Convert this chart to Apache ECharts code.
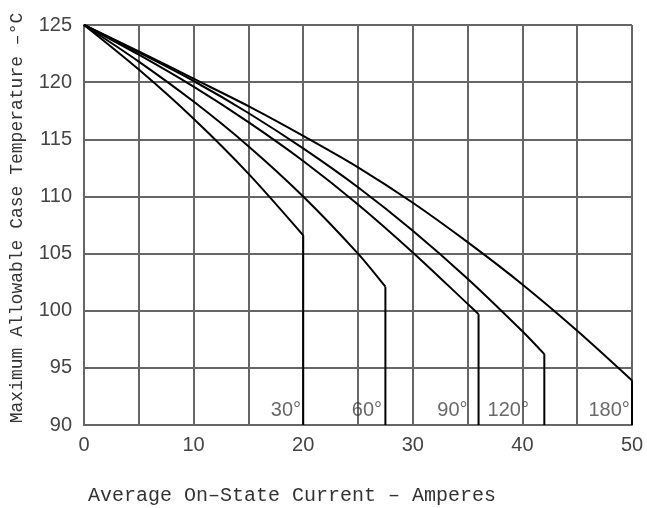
<!DOCTYPE html>
<html>
<head>
<meta charset="utf-8">
<script src="https://cdn.jsdelivr.net/npm/echarts@6/dist/echarts.min.js"></script>
<style>
  html, body { margin: 0; padding: 0; background: #fff; }
  #chart { width: 647px; height: 508px; }
</style>
</head>
<body>
<div id="chart"></div>
<script>
// ---- data ----
const xTicks = [0, 10, 20, 30, 40, 50];
const yTicks = [90, 95, 100, 105, 110, 115, 120, 125];

const conductionAngles = ['30°', '60°', '90°', '120°', '180°'];

const current30 = [0, 5, 10, 15, 20];
const temp30    = [125, 121.1, 116.8, 112.0, 106.6];

const current60 = [0, 5, 10, 15, 20, 25, 27.5];
const temp60    = [125, 121.8, 118.3, 114.4, 110.0, 105.0, 102.1];

const current90 = [0, 5, 10, 15, 20, 25, 30, 35, 36];
const temp90    = [125, 122.4, 119.6, 116.5, 113.1, 109.3, 105.1, 100.6, 99.7];

const current120 = [0, 5, 10, 15, 20, 25, 30, 35, 40, 42];
const temp120    = [125, 122.6, 120.1, 117.3, 114.2, 110.8, 107.0, 102.8, 98.2, 96.2];

const current180 = [0, 5, 10, 15, 20, 25, 30, 35, 40, 45, 50];
const temp180    = [125, 122.7, 120.3, 117.9, 115.3, 112.55, 109.45, 106.0, 102.3, 98.25, 93.9];

// angle label anchors (value coordinates, right edge of text)
const labelCurrent = [19.8, 27.2, 35.0, 40.6, 49.8];
const labelTemp    = [90.4, 90.4, 90.4, 90.4, 90.4];

const curves = [
  [current30, temp30],
  [current60, temp60],
  [current90, temp90],
  [current120, temp120],
  [current180, temp180]
];

const chart = echarts.init(document.getElementById('chart'), null, { renderer: 'canvas' });

const yMin = yTicks[0];
const series = [];
curves.forEach(function (c, i) {
  const xs = c[0], ys = c[1];
  const pts = xs.map(function (x, k) { return [x, ys[k]]; });
  series.push({
    name: conductionAngles[i],
    type: 'line',
    data: pts,
    smooth: 0.3,
    showSymbol: false,
    symbol: 'none',
    lineStyle: { color: '#000', width: 2 },
    silent: true,
    z: 5
  });
  const last = pts[pts.length - 1];
  series.push({
    name: conductionAngles[i] + ' limit',
    type: 'line',
    data: [[last[0], last[1]], [last[0], yMin]],
    showSymbol: false,
    symbol: 'none',
    lineStyle: { color: '#000', width: 2 },
    silent: true,
    z: 5
  });
});

series.push({
  name: 'labels',
  type: 'scatter',
  symbolSize: 0,
  silent: true,
  data: labelCurrent.map(function (x, i) { return { value: [x, labelTemp[i]], name: conductionAngles[i] }; }),
  label: {
    show: true,
    position: 'inside',
    align: 'right',
    verticalAlign: 'bottom',
    formatter: function (p) { return p.name; },
    fontFamily: 'Liberation Sans',
    fontSize: 20,
    color: '#444'
  },
  z: 6
});

const option = {
  backgroundColor: '#fff',
  animation: false,
  title: {
    text: 'Average On\u2013State Current \u2013 Amperes',
    left: 83,
    top: 481,
    textStyle: {
      fontFamily: 'Liberation Mono',
      fontSize: 20,
      fontWeight: 'normal',
      color: '#333'
    }
  },
  grid: { left: 84, right: 15, top: 25, bottom: 83, containLabel: false },
  xAxis: {
    type: 'value',
    min: 0,
    max: 50,
    interval: 5,
    axisLine: { show: true, lineStyle: { color: '#666', width: 2 } },
    axisTick: { show: false },
    splitLine: { show: true, lineStyle: { color: '#666', width: 2 } },
    axisLabel: {
      margin: 10,
      fontFamily: 'Liberation Sans',
      fontSize: 20,
      color: '#444',
      formatter: function (v) { return xTicks.indexOf(v) >= 0 ? String(v) : ''; }
    }
  },
  yAxis: {
    type: 'value',
    min: 90,
    max: 125,
    interval: 5,
    name: 'Maximum Allowable Case Temperature \u2013\u00b0C',
    nameLocation: 'middle',
    nameGap: 58,
    nameTextStyle: {
      fontFamily: 'Liberation Mono',
      fontSize: 18,
      color: '#333',
      padding: [0, 0, 0, 14]
    },
    axisLine: { show: true, lineStyle: { color: '#666', width: 2 } },
    axisTick: { show: false },
    splitLine: { show: true, lineStyle: { color: '#666', width: 2 } },
    axisLabel: {
      margin: 12,
      fontFamily: 'Liberation Sans',
      fontSize: 20,
      color: '#444',
      formatter: function (v) { return yTicks.indexOf(v) >= 0 ? String(v) : ''; }
    }
  },
  series: series
};

chart.setOption(option);
</script>
</body>
</html>
